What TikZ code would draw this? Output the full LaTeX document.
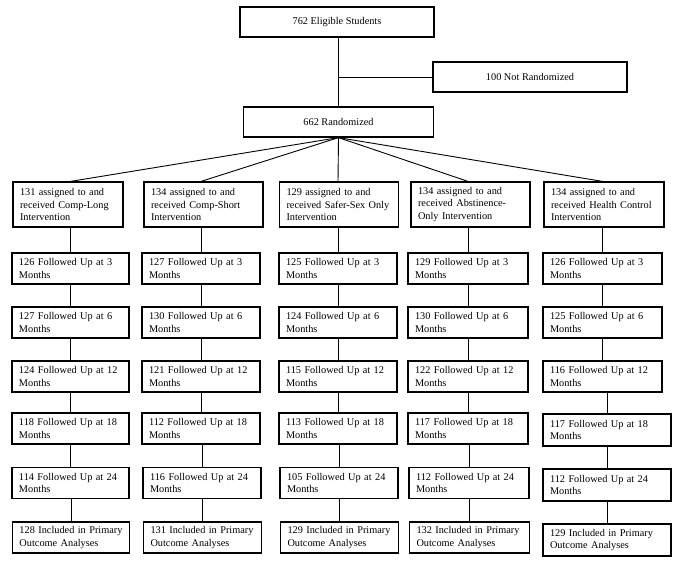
\documentclass[tikz,border=0pt]{standalone}
\usepackage{fontspec}
\setmainfont{Liberation Serif}
\newcommand{\keepline}[1]{\mbox{#1}}
\begin{document}
\begin{tikzpicture}[x=1pt,y=-1pt,
  every node/.style={font=\fontsize{10.3}{12.6}\selectfont},
  topbox/.style={draw, line width=1.2pt, rectangle, inner sep=0pt, align=center},
  armbox/.style={draw, line width=1.2pt, rectangle, inner xsep=7pt, inner ysep=0pt,
     text width=#1, minimum height=45pt, align=left},
  fubox/.style={draw, line width=1.2pt, rectangle, inner xsep=7pt, inner ysep=0pt,
     text width=#1, minimum height=31pt, align=left},
  conn/.style={line width=0.9pt}]
\useasboundingbox (0,0) rectangle (675,563);
% top part
\node[topbox, minimum width=194pt, minimum height=30pt] (elig) at (337,22) {762 Eligible Students};
\node[topbox, minimum width=194pt, minimum height=30pt] (nr) at (530,77) {100 Not Randomized};
\node[topbox, minimum width=190pt, minimum height=30pt] (rand) at (338.5,122) {662 Randomized};
\draw[conn] (rand.north |- elig.south) -- (rand.north);
\draw[conn] (rand.north |- nr.west) -- (nr.west);
% arms
\node[armbox=96pt] (a1) at (68,204.5) {\keepline{131 assigned to and}\\\keepline{received Comp-Long}\\Intervention};
\node[armbox=105pt] (a2) at (203.5,204.5) {\keepline{134 assigned to and}\\\keepline{received Comp-Short}\\Intervention};
\node[armbox=105pt] (a3) at (339,204.5) {\keepline{129 assigned to and}\\\keepline{received Safer-Sex Only}\\Intervention};
\node[armbox=105pt] (a4) at (470.5,204.5) {\keepline{134 assigned to and}\\\keepline{received Abstinence-}\\\keepline{Only Intervention}};
\node[armbox=106pt] (a5) at (604,204.5) {\keepline{134 assigned to and}\\\keepline{received Health Control}\\Intervention};
% column 1
\node[fubox=103pt] (m31) at (70.5,268.5) {\keepline{126 Followed Up at 3}\\Months};
\node[fubox=103pt] (m61) at (70.5,322.5) {\keepline{127 Followed Up at 6}\\Months};
\node[fubox=103pt] (m121) at (70.5,376.5) {\keepline{124 Followed Up at 12}\\Months};
\node[fubox=103pt] (m181) at (70.5,428.5) {\keepline{118 Followed Up at 18}\\Months};
\node[fubox=103pt] (m241) at (70.5,483) {\keepline{114 Followed Up at 24}\\Months};
\node[fubox=103pt] (inc1) at (71,537.5) {\keepline{128 Included in Primary}\\\keepline{Outcome Analyses}};
% column 2
\node[fubox=104pt] (m32) at (201,268.5) {\keepline{127 Followed Up at 3}\\Months};
\node[fubox=104pt] (m62) at (201,322.5) {\keepline{130 Followed Up at 6}\\Months};
\node[fubox=104pt] (m122) at (201,376.5) {\keepline{121 Followed Up at 12}\\Months};
\node[fubox=104pt] (m182) at (201,428.5) {\keepline{112 Followed Up at 18}\\Months};
\node[fubox=104pt] (m242) at (202,483) {\keepline{116 Followed Up at 24}\\Months};
\node[fubox=104pt] (inc2) at (202.5,537.5) {\keepline{131 Included in Primary}\\\keepline{Outcome Analyses}};
% column 3
\node[fubox=104pt] (m33) at (338,268.5) {\keepline{125 Followed Up at 3}\\Months};
\node[fubox=104pt] (m63) at (338,322.5) {\keepline{124 Followed Up at 6}\\Months};
\node[fubox=104pt] (m123) at (338,376.5) {\keepline{115 Followed Up at 12}\\Months};
\node[fubox=104pt] (m183) at (338,428.5) {\keepline{113 Followed Up at 18}\\Months};
\node[fubox=104pt] (m243) at (339,483) {\keepline{105 Followed Up at 24}\\Months};
\node[fubox=104pt] (inc3) at (339.5,537.5) {\keepline{129 Included in Primary}\\\keepline{Outcome Analyses}};
% column 4
\node[fubox=106pt] (m34) at (468,268.5) {\keepline{129 Followed Up at 3}\\Months};
\node[fubox=106pt] (m64) at (468,322.5) {\keepline{130 Followed Up at 6}\\Months};
\node[fubox=106pt] (m124) at (468,376.5) {\keepline{122 Followed Up at 12}\\Months};
\node[fubox=106pt] (m184) at (468,428.5) {\keepline{117 Followed Up at 18}\\Months};
\node[fubox=106pt] (m244) at (469,483) {\keepline{112 Followed Up at 24}\\Months};
\node[fubox=106pt] (inc4) at (469.5,537.5) {\keepline{132 Included in Primary}\\\keepline{Outcome Analyses}};
% column 5
\node[fubox=105pt] (m35) at (602.5,268.5) {\keepline{126 Followed Up at 3}\\Months};
\node[fubox=105pt] (m65) at (602.5,322.5) {\keepline{125 Followed Up at 6}\\Months};
\node[fubox=105pt] (m125) at (602.5,376.5) {\keepline{116 Followed Up at 12}\\Months};
\node[fubox=114pt, minimum height=32pt] (m185) at (607,430) {\keepline{117 Followed Up at 18}\\Months};
\node[fubox=114pt, minimum height=32pt] (m245) at (607,485) {\keepline{112 Followed Up at 24}\\Months};
\node[fubox=114pt, minimum height=32pt] (inc5) at (607,540) {\keepline{129 Included in Primary}\\\keepline{Outcome Analyses}};
% fan from randomized box to arms
\draw[conn] (rand.south) -- (a1.north -| m31.north);
\draw[conn] (rand.south) -- (a2.north -| m32.north);
\draw[conn] (rand.south) -- (a3.north -| m33.north);
\draw[conn] (rand.south) -- (a4.north -| m34.north);
\draw[conn] (rand.south) -- (a5.north -| m35.north);
% column connectors
\foreach \c in {1,...,5}{
  \draw[conn] (a\c.south -| m3\c.north) -- (m3\c.north);
  \draw[conn] (m3\c) -- (m6\c);
  \draw[conn] (m6\c) -- (m12\c);
  \draw[conn] (m12\c.south -| m18\c.north) -- (m18\c.north);
  \draw[conn] (m18\c.south -| m24\c.north) -- (m24\c.north);
  \draw[conn] (m24\c.south -| inc\c.north) -- (inc\c.north);
}
\end{tikzpicture}
\end{document}
